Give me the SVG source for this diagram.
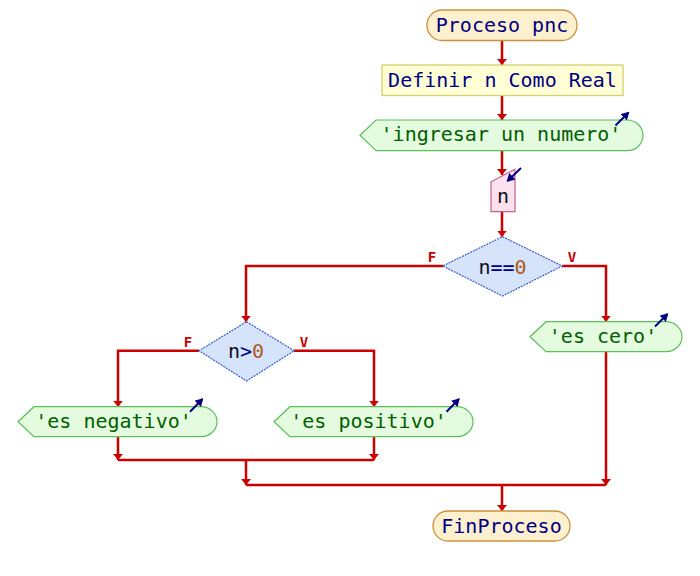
<svg xmlns="http://www.w3.org/2000/svg" width="700" height="576" viewBox="0 0 700 576">
<defs>
<marker id="ah" viewBox="0 0 6 10" refX="6" refY="5" markerWidth="6" markerHeight="10" markerUnits="userSpaceOnUse" orient="auto"><path d="M0,0 L6,5 L0,10 Z" fill="#cc0000"/></marker>
<marker id="ia" viewBox="0 0 7 8" refX="6" refY="4" markerWidth="8" markerHeight="9" markerUnits="userSpaceOnUse" orient="auto"><path d="M0,0 L7,4 L0,8 Z" fill="#000080"/></marker>
</defs>
<style>
text{font-family:"DejaVu Sans Mono","Liberation Mono",monospace;font-size:20px;text-anchor:middle}
.term{fill:#fdf0cf;stroke:#c8913e;stroke-width:1.3}
.proc{fill:#ffffd6;stroke:#d2cf70;stroke-width:1.3}
.out{fill:#e4fbdf;stroke:#5cbf5c;stroke-width:1.2}
.inp{fill:#fde1ee;stroke:#c0628e;stroke-width:1.2}
.dec{fill:#d5e4fb;stroke:#3a5cc8;stroke-width:1.2;stroke-dasharray:2 1}
.navy{fill:#000080}
.grn{fill:#006000}
.dark{fill:#101020}
.num{fill:#b0581e}
.lbl{fill:#cc0000;font-size:14px;font-weight:bold}
.ln{fill:none;stroke:#cc0000;stroke-width:2.5}
.ic{stroke:#000080;stroke-width:2;fill:none}
</style>
<g id="connectors">
<path class="ln" d="M502,41 V65" marker-end="url(#ah)"/>
<path class="ln" d="M502,96 V120" marker-end="url(#ah)"/>
<path class="ln" d="M502,151 V175" marker-end="url(#ah)"/>
<path class="ln" d="M502,212 V236.7" marker-end="url(#ah)"/>
<path class="ln" d="M562,266 H606 V321.7" marker-end="url(#ah)"/>
<path class="ln" d="M443,266 H246 V321.7" marker-end="url(#ah)"/>
<path class="ln" d="M199,350.7 H118 V406.7" marker-end="url(#ah)"/>
<path class="ln" d="M294,350.7 H374 V406.7" marker-end="url(#ah)"/>
<path class="ln" d="M118,437 V460" marker-end="url(#ah)"/>
<path class="ln" d="M374,437 V460" marker-end="url(#ah)"/>
<path class="ln" d="M118,460 H374"/>
<path class="ln" d="M246,460 V485" marker-end="url(#ah)"/>
<path class="ln" d="M606,352 V485" marker-end="url(#ah)"/>
<path class="ln" d="M246,485 H606"/>
<path class="ln" d="M502,485 V511" marker-end="url(#ah)"/>
<text class="lbl" x="432" y="261.5">F</text>
<text class="lbl" x="572" y="261.5">V</text>
<text class="lbl" x="188" y="346.5">F</text>
<text class="lbl" x="304" y="346.5">V</text>
</g>
<g id="inicio">
<rect class="term" x="427" y="10" width="150" height="30.5" rx="15"/>
<text class="navy" x="502" y="32">Proceso pnc</text>
</g>
<g id="definir">
<rect class="proc" x="382" y="65" width="241" height="30.5"/>
<text class="navy" x="502.5" y="87">Definir n Como Real</text>
</g>
<g id="escribir1">
<path class="out" d="M360,135.3 L376,120 H627 A16,15.3 0 0 1 627,150.7 H376 Z"/>
<text class="grn" x="501" y="141">'ingresar un numero'</text>
<path class="ic" d="M615.5,125.5 L628.5,112.5" marker-end="url(#ia)"/>
</g>
<g id="leer">
<path class="inp" d="M491,181.7 L515,169.3 V211.7 H491 Z"/>
<text class="dark" x="503" y="203">n</text>
<path class="ic" d="M521,168 L507.5,181" marker-end="url(#ia)"/>
</g>
<g id="si1">
<path class="dec" d="M502.5,236.7 L562.3,266 L502.5,296 L442.7,266 Z"/>
<text x="502.5" y="273.5"><tspan class="dark">n</tspan><tspan class="navy">==</tspan><tspan class="num">0</tspan></text>
</g>
<g id="escero">
<path class="out" d="M530,336.7 L546,321.7 H666 A16,15 0 0 1 666,351.7 H546 Z"/>
<text class="grn" x="603" y="343">'es cero'</text>
<path class="ic" d="M655,326.5 L667.5,314" marker-end="url(#ia)"/>
</g>
<g id="si2">
<path class="dec" d="M246.5,321.7 L294.3,350.7 L246.5,381 L199,350.7 Z"/>
<text x="246" y="358.3"><tspan class="dark">n</tspan><tspan class="navy">&gt;</tspan><tspan class="num">0</tspan></text>
</g>
<g id="esnegativo">
<path class="out" d="M18,421.7 L34,406.7 H201 A16,15 0 0 1 201,436.7 H34 Z"/>
<text class="grn" x="113.5" y="428.3">'es negativo'</text>
<path class="ic" d="M190,411.7 L202.5,399" marker-end="url(#ia)"/>
</g>
<g id="espositivo">
<path class="out" d="M274,421.7 L290,406.7 H457 A16,15 0 0 1 457,436.7 H290 Z"/>
<text class="grn" x="368.5" y="428.3">'es positivo'</text>
<path class="ic" d="M446.5,411.7 L459,399" marker-end="url(#ia)"/>
</g>
<g id="fin">
<rect class="term" x="433" y="511" width="137" height="30" rx="15"/>
<text class="navy" x="501.5" y="533">FinProceso</text>
</g>
</svg>
